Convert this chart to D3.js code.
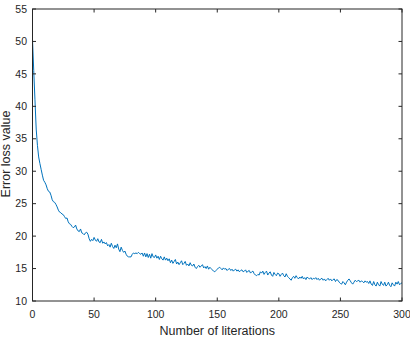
<!DOCTYPE html>
<html>
<head>
<meta charset="utf-8">
<script src="https://cdn.jsdelivr.net/npm/d3@7"></script>
<style>
  body { margin: 0; background: #fff; }
  svg text { font-family: "Liberation Sans", Arial, sans-serif; fill: #262626; }
</style>
</head>
<body>
<div id="chart"></div>
<script>
// error loss per iteration (iterations 0..300)
var lossValues = [
  50.3, 45.5, 41.0, 36.5, 34.0, 32.2, 31.2, 30.3, 29.4, 28.6,
  28.3, 27.9, 27.3, 26.9, 26.8, 26.3, 25.6, 25.3, 25.2, 24.9,
  24.5, 24.0, 23.7, 23.6, 23.4, 23.3, 23.0, 22.7, 22.8, 22.2,
  21.9, 21.8, 21.5, 21.3, 21.4, 21.7, 21.1, 20.8, 20.7, 21.1,
  20.5, 20.4, 20.2, 20.5, 20.6, 20.3, 19.6, 19.2, 19.5, 19.3,
  19.8, 19.4, 19.2, 19.6, 19.1, 19.0, 19.5, 18.9, 19.1, 18.8,
  19.0, 18.5, 18.7, 18.3, 18.9, 18.4, 18.1, 18.6, 18.2, 18.8,
  18.0, 17.6, 18.3, 17.8, 17.5, 17.7, 17.2, 16.9, 16.8, 16.8,
  16.8, 17.2, 17.4, 17.3, 17.4, 17.3, 17.5, 17.3, 17.2, 17.4,
  16.9, 17.4, 16.8, 17.3, 16.7, 17.2, 16.6, 17.3, 16.8, 16.7,
  17.1, 16.6, 16.9, 16.4, 16.9, 16.5, 16.3, 16.8, 16.3, 16.6,
  16.2, 16.5, 15.9, 16.3, 15.8, 16.1, 16.4, 15.7, 16.0, 15.6,
  15.9, 16.2, 15.6, 15.8, 16.1, 15.5, 15.7, 15.4, 15.9, 15.5,
  15.4, 15.7, 15.2, 15.0, 15.3, 15.5, 15.2, 15.4, 15.6, 15.1,
  15.3, 15.0, 15.4, 14.9, 15.2, 15.0, 14.8, 14.6, 14.5, 14.7,
  14.9, 15.1, 15.2, 15.0, 14.8, 15.1, 14.9, 15.0, 14.7, 14.9,
  15.0, 14.7, 14.9, 14.6, 14.8, 14.9, 14.6, 14.8, 14.5, 14.7,
  14.8, 14.5, 14.6, 14.8, 14.4, 14.6, 14.7, 14.3, 14.5, 14.6,
  14.2, 14.0, 13.9, 14.1, 14.0, 14.5, 14.3, 14.6, 14.1, 14.4,
  14.6, 14.0, 14.3, 14.5, 14.0, 13.8, 14.4, 14.1, 13.9, 14.3,
  14.2, 13.8, 14.1, 14.3, 13.9, 13.7, 14.2, 13.8, 13.6, 13.4,
  13.2, 13.6, 13.8, 13.5, 13.9, 13.6, 13.4, 13.7, 13.5, 13.8,
  13.4, 13.6, 13.3, 13.7, 13.5, 13.4, 13.6, 13.3, 13.5, 13.4,
  13.6, 13.3, 13.5, 13.2, 13.4, 13.5, 13.2, 13.4, 13.1, 13.3,
  13.5, 13.2, 13.4, 13.1, 13.3, 13.4, 13.0, 13.3, 13.2, 12.9,
  12.7, 12.6, 13.0, 12.8, 12.5, 12.9, 13.2, 13.4, 13.1, 12.8,
  12.6, 12.9, 13.2, 13.0, 13.1, 13.2, 12.9, 13.1, 13.0, 12.8,
  13.1, 12.9, 13.0, 12.7, 13.1, 12.6, 12.4, 13.0, 12.5, 12.3,
  12.9, 12.5, 12.3, 13.0, 12.6, 12.4, 12.9, 12.3, 12.5, 12.9,
  12.4, 12.2, 12.8, 12.5, 12.3, 12.9, 12.6, 13.0, 12.5, 12.7,
  12.8
];
var xTicks = [0, 50, 100, 150, 200, 250, 300];
var yTicks = [10, 15, 20, 25, 30, 35, 40, 45, 50, 55];
var xLabel = "Number of literations";
var yLabel = "Error loss value";

var W = 410, H = 348;
var plotL = 32.5, plotR = 402, plotT = 9, plotB = 301;
var axisColor = "#262626";

var svg = d3.select("#chart").append("svg")
  .attr("width", W).attr("height", H);

var x = d3.scaleLinear().domain([0, 300]).range([plotL, plotR]);
var y = d3.scaleLinear().domain([10, 55]).range([plotB, plotT]);

// data line
var line = d3.line()
  .x(function (d, i) { return x(i); })
  .y(function (d) { return y(d); });

svg.append("path")
  .datum(lossValues)
  .attr("d", line)
  .attr("fill", "none")
  .attr("stroke", "#0072BD")
  .attr("stroke-width", 1);

// axes box
svg.append("rect")
  .attr("x", plotL).attr("y", plotT)
  .attr("width", plotR - plotL).attr("height", plotB - plotT)
  .attr("fill", "none").attr("stroke", axisColor).attr("stroke-width", 1);

var tk = 3.5;
// x ticks (bottom + top, inward)
xTicks.forEach(function (t) {
  var px = x(t);
  svg.append("line").attr("x1", px).attr("x2", px).attr("y1", plotB).attr("y2", plotB - tk)
    .attr("stroke", axisColor);
  svg.append("line").attr("x1", px).attr("x2", px).attr("y1", plotT).attr("y2", plotT + tk)
    .attr("stroke", axisColor);
  svg.append("text").attr("x", px).attr("y", 318)
    .attr("text-anchor", "middle").attr("font-size", 10.5).text(t);
});

// y ticks (left + right, inward)
yTicks.forEach(function (t) {
  var py = y(t);
  svg.append("line").attr("x1", plotL).attr("x2", plotL + tk).attr("y1", py).attr("y2", py)
    .attr("stroke", axisColor);
  svg.append("line").attr("x1", plotR).attr("x2", plotR - tk).attr("y1", py).attr("y2", py)
    .attr("stroke", axisColor);
  svg.append("text").attr("x", 27).attr("y", py + 3.7)
    .attr("text-anchor", "end").attr("font-size", 10.5).text(t);
});

svg.append("text")
  .attr("x", (plotL + plotR) / 2).attr("y", 335)
  .attr("text-anchor", "middle").attr("font-size", 12.5)
  .text(xLabel);

svg.append("text")
  .attr("transform", "translate(10,154) rotate(-90)")
  .attr("text-anchor", "middle").attr("font-size", 12.5)
  .text(yLabel);
</script>
</body>
</html>
